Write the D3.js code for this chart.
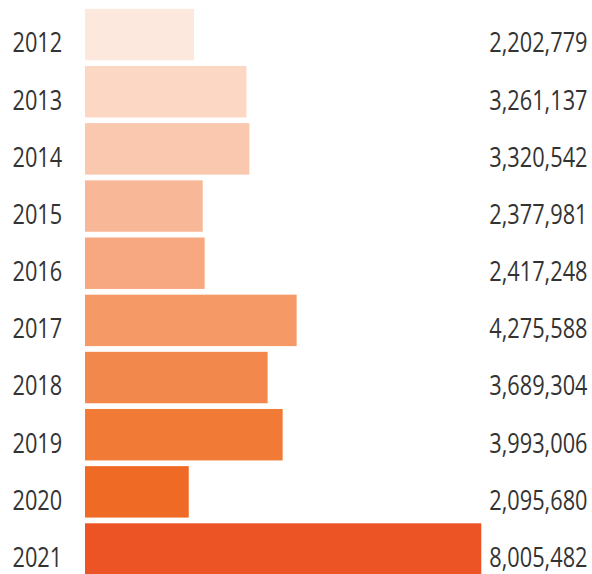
<!DOCTYPE html>
<html>
<head>
<meta charset="utf-8">
<script src="https://cdn.jsdelivr.net/npm/d3@7"></script>
<style>
  html, body { margin: 0; padding: 0; background: #ffffff; }
  svg { display: block; }
  text { font-family: "Open Sans", "Noto Sans", sans-serif; fill: #333333; }
</style>
</head>
<body>
<div id="chart"></div>
<script>
// Annual totals, 2012–2021
const years = ["2012", "2013", "2014", "2015", "2016", "2017", "2018", "2019", "2020", "2021"];
const values = [2202779, 3261137, 3320542, 2377981, 2417248, 4275588, 3689304, 3993006, 2095680, 8005482];
const barColors = ["#fde8de", "#fcd8c4", "#fac8ae", "#f8b898", "#f7a880", "#f59a66", "#f3884c", "#f17a36", "#ef6a24", "#ec5426"];

const width = 592, height = 574;

const svg = d3.select("#chart").append("svg")
  .attr("width", width)
  .attr("height", height);

const x = d3.scaleLinear()
  .domain([0, 8000000])
  .range([85, 481]);

const y = d3.scaleBand()
  .domain(years)
  .range([6, 577.6])
  .paddingInner(0.1)
  .paddingOuter(0.05);

const rows = years.map((yr, i) => ({ year: yr, value: values[i], color: barColors[i] }));

svg.append("g").selectAll("rect")
  .data(rows)
  .join("rect")
  .attr("x", x(0))
  .attr("y", d => y(d.year))
  .attr("width", d => x(d.value) - x(0))
  .attr("height", y.bandwidth())
  .attr("fill", d => d.color);

const fmt = d3.format(",");
const squeeze = 0.82; // narrow the glyphs to a condensed look
const baseline = 43.6; // label baseline below each bar's top edge

svg.append("g").selectAll("text")
  .data(rows)
  .join("text")
  .attr("transform", d => `translate(12.5,${y(d.year) + baseline}) scale(${squeeze},1)`)
  .attr("font-size", 26.5)
  .text(d => d.year);

svg.append("g").selectAll("text")
  .data(rows)
  .join("text")
  .attr("transform", d => `translate(587.5,${y(d.year) + baseline}) scale(${squeeze},1)`)
  .attr("text-anchor", "end")
  .attr("font-size", 26.5)
  .text(d => fmt(d.value));
</script>
</body>
</html>
